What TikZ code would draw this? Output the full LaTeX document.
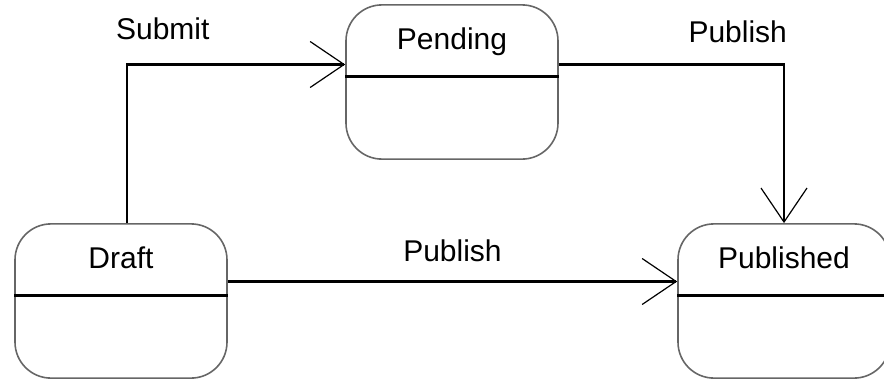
\documentclass[tikz,border=0pt]{standalone}
\usepackage{fontspec}
\setmainfont{Liberation Sans}
\usetikzlibrary{arrows.meta,shapes.multipart}

\tikzset{
  state/.style={rectangle split, rectangle split parts=2,
    rectangle split draw splits=false, draw=black!60, line width=0.8pt,
    rounded corners=18pt, minimum width=106pt,
    text height=12pt, text depth=3pt, inner ysep=10pt,
    rectangle split empty part height=20.5pt, rectangle split empty part depth=0pt,
    font=\fontsize{15}{18}\selectfont},
  divider/.style={line width=1.1pt},
  flow/.style={line width=1.1pt,
    -{Straight Barb[length=17pt,width=23pt,line width=0.6pt]}},
  lbl/.style={font=\fontsize{15}{18}\selectfont, inner sep=2pt},
}

\begin{document}
\begin{tikzpicture}[x=0.5pt, y=-0.5pt]
  \useasboundingbox (0,0) rectangle (884,380);
  \clip (0,0) rectangle (884,380);

  % states
  \node[state] (draft) at (121,301) {Draft};
  \node[state] (pend)  at (452,82)  {Pending};
  \node[state] (pub)   at (784,301) {Published};
  \foreach \s in {draft,pend,pub}
    \draw[divider] (\s.text split west) -- (\s.text split east);

  % transitions
  \draw[flow] ([xshift=3pt]draft.north) |- ([yshift=6pt]pend.text split west)
    node[lbl, pos=0.5, above right, xshift=-8pt, yshift=10pt] {Submit};
  \draw[flow] ([yshift=7pt]draft.text split east) -- ([yshift=7pt]pub.text split west)
    node[lbl, midway, above=7.5pt] {Publish};
  \draw[flow] ([yshift=6pt]pend.text split east) -| (pub.north)
    node[lbl, pos=0.5, above left, xshift=4pt, yshift=8.5pt] {Publish};
\end{tikzpicture}
\end{document}
